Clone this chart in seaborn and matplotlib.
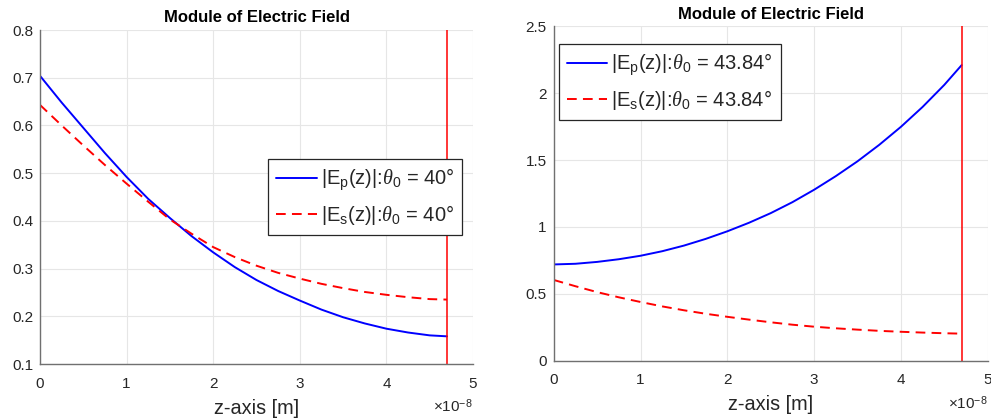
import matplotlib
matplotlib.use("Agg")
import matplotlib.pyplot as plt
import seaborn as sns
import pandas as pd
from matplotlib.ticker import FuncFormatter, MultipleLocator

# Sample positions along z (metres)
z_m = [0.0, 0.25e-8, 0.5e-8, 0.75e-8, 1.0e-8, 1.25e-8, 1.5e-8, 1.75e-8, 2.0e-8, 2.25e-8,
       2.5e-8, 2.75e-8, 3.0e-8, 3.25e-8, 3.5e-8, 3.75e-8, 4.0e-8, 4.25e-8, 4.5e-8, 4.7e-8]

# theta_0 = 40 deg
ep_40 = [0.704, 0.648, 0.595, 0.542, 0.492, 0.446, 0.406, 0.368, 0.334, 0.303,
         0.276, 0.253, 0.233, 0.214, 0.198, 0.185, 0.174, 0.166, 0.160, 0.158]
es_40 = [0.643, 0.600, 0.558, 0.517, 0.478, 0.440, 0.403, 0.373, 0.345, 0.324,
         0.306, 0.291, 0.279, 0.268, 0.259, 0.251, 0.245, 0.240, 0.236, 0.235]

# theta_0 = 43.84 deg
ep_4384 = [0.719, 0.724, 0.738, 0.758, 0.784, 0.818, 0.860, 0.910, 0.967, 1.031,
           1.103, 1.185, 1.278, 1.380, 1.491, 1.614, 1.749, 1.898, 2.063, 2.211]
es_4384 = [0.603, 0.556, 0.512, 0.473, 0.438, 0.405, 0.376, 0.350, 0.327, 0.306,
           0.286, 0.268, 0.253, 0.241, 0.231, 0.222, 0.215, 0.209, 0.204, 0.201]

z_interface = 4.7e-8

titles = ["Module of Electric Field", "Module of Electric Field"]
angle_labels = ["40", "43.84"]
ylims = [(0.1, 0.8), (0.0, 2.5)]
ysteps = [0.1, 0.5]

sns.set_style("white")
plt.rcParams["font.family"] = ["Liberation Sans", "DejaVu Sans"]
plt.rcParams["mathtext.fontset"] = "custom"
plt.rcParams["mathtext.rm"] = "Liberation Sans"
plt.rcParams["mathtext.sf"] = "Liberation Sans"
plt.rcParams["mathtext.it"] = "Liberation Serif:italic"

fig = plt.figure(figsize=(9.91, 4.19), dpi=100)
ax_l = fig.add_axes([40 / 991, 1 - 364 / 419, 433 / 991, 334 / 419])
ax_r = fig.add_axes([553.7 / 991, 1 - 360.5 / 419, 434 / 991, 334 / 419])

axis_col = "#262626"
series = [(ep_40, es_40), (ep_4384, es_4384)]
legend_locs = [(0.527, 0.614), (0.012, 0.948)]

for ax, (ep, es), title, ang, ylim, ystep, lloc in zip(
        [ax_l, ax_r], series, titles, angle_labels, ylims, ysteps, legend_locs):
    df = pd.DataFrame({"z": z_m + z_m,
                       "E": ep + es,
                       "comp": ["p"] * len(z_m) + ["s"] * len(z_m)})
    sns.lineplot(data=df[df.comp == "p"], x="z", y="E", ax=ax, color="#0000ff",
                 lw=1.4, label=r"|E$_{\mathrm{p}}$(z)|:$\theta_{\mathrm{0}}$ = " + ang + "°")
    sns.lineplot(data=df[df.comp == "s"], x="z", y="E", ax=ax, color="#ff0000",
                 lw=1.4, label=r"|E$_{\mathrm{s}}$(z)|:$\theta_{\mathrm{0}}$ = " + ang + "°")
    ax.lines[1].set_dashes((5, 3.2))
    ax.axvline(z_interface, color="#ff0000", lw=1.1)

    ax.set_xlim(0, 5e-8)
    ax.set_ylim(*ylim)
    ax.xaxis.set_major_locator(MultipleLocator(1e-8))
    ax.yaxis.set_major_locator(MultipleLocator(ystep))
    ax.xaxis.set_major_formatter(FuncFormatter(lambda v, p: "%g" % round(v / 1e-8, 6)))
    ax.yaxis.set_major_formatter(FuncFormatter(lambda v, p: "%g" % round(v, 6)))

    ax.grid(True, color="#e6e6e6", lw=0.8)
    ax.set_axisbelow(True)
    for side in ["top", "right"]:
        ax.spines[side].set_visible(False)
    for side in ["left", "bottom"]:
        ax.spines[side].set_color("#707070")
        ax.spines[side].set_linewidth(1.0)
    ax.tick_params(direction="in", length=3, width=0.8, color="#707070",
                   labelsize=11, labelcolor=axis_col)
    ax.tick_params(axis="y", pad=5)
    ax.tick_params(axis="x", pad=9)

    ax.set_title(title, fontsize=12, fontweight="bold", pad=5.5, color="black")
    ax.set_xlabel("z-axis [m]", fontsize=14.3, color=axis_col, labelpad=6)
    ax.set_ylabel("")
    ax.text(1.0, -0.1, r"$\times$10$^{\mathrm{-8}}$", transform=ax.transAxes,
            ha="right", va="top", fontsize=11, color=axis_col)

    leg = ax.legend(loc="upper left", bbox_to_anchor=lloc, fontsize=14.5,
                    frameon=True, fancybox=False, framealpha=1,
                    edgecolor=axis_col, handlelength=2.0, handletextpad=0.2,
                    borderpad=0.4, labelspacing=0.5, borderaxespad=0)
    leg.get_frame().set_linewidth(0.9)

fig.savefig("out.png", dpi=100)
